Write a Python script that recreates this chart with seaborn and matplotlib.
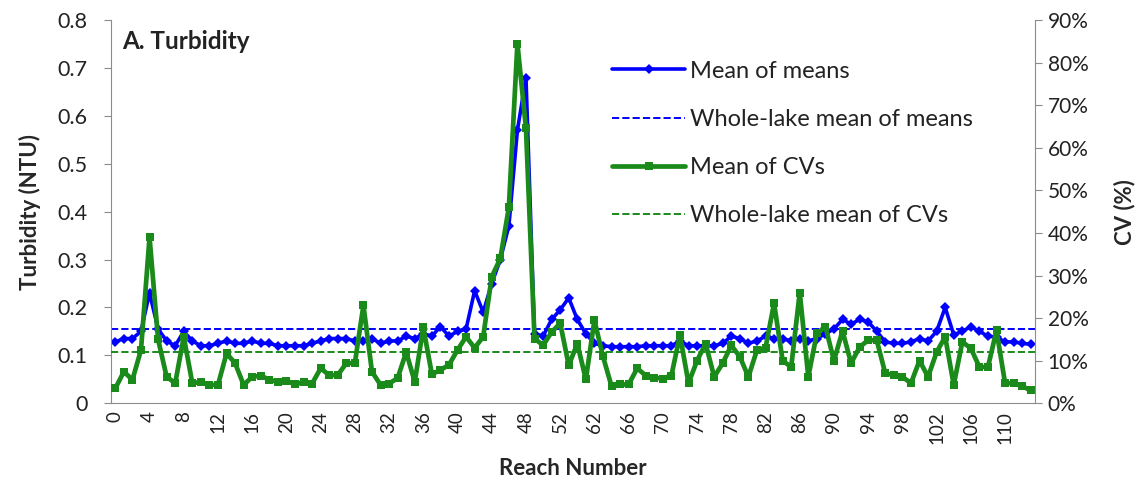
import numpy as np
import pandas as pd
import matplotlib
matplotlib.use("Agg")
import matplotlib.pyplot as plt
import seaborn as sns

# Reach numbers (reaches 53-58 have no samples)
reach = list(range(0, 53)) + list(range(59, 114))

# Mean turbidity of the per-reach means (NTU)
mean_of_means = [
    0.128, 0.135, 0.135, 0.150, 0.230, 0.155, 0.130, 0.120, 0.150, 0.130,
    0.120, 0.120, 0.125, 0.130, 0.125, 0.125, 0.130, 0.125, 0.125, 0.120,
    0.120, 0.120, 0.120, 0.125, 0.130, 0.135, 0.135, 0.135, 0.130, 0.130,
    0.135, 0.125, 0.130, 0.130, 0.140, 0.135, 0.145, 0.140, 0.160, 0.140,
    0.150, 0.155, 0.235, 0.190, 0.250, 0.300, 0.370, 0.570, 0.680, 0.145,
    0.140, 0.175, 0.195, 0.220, 0.175, 0.145, 0.125, 0.120, 0.118, 0.118,
    0.118, 0.118, 0.120, 0.120, 0.120, 0.120, 0.130, 0.120, 0.120, 0.120,
    0.120, 0.125, 0.140, 0.135, 0.125, 0.130, 0.140, 0.135, 0.135, 0.130,
    0.135, 0.130, 0.135, 0.145, 0.155, 0.175, 0.165, 0.175, 0.170, 0.150,
    0.128, 0.125, 0.125, 0.128, 0.135, 0.130, 0.150, 0.200, 0.143, 0.150,
    0.160, 0.150, 0.140, 0.138, 0.128, 0.128, 0.125, 0.123,
]

# Mean coefficient of variation per reach (%)
mean_of_cvs = [
    3.5, 7.4, 5.5, 12.5, 39.0, 15.0, 6.2, 4.7, 15.6, 4.7,
    5.0, 4.3, 4.3, 11.7, 9.4, 4.3, 6.2, 6.5, 5.5, 5.0,
    5.3, 4.4, 5.0, 4.6, 8.2, 6.6, 6.6, 9.4, 9.4, 23.0,
    7.4, 4.3, 4.6, 5.9, 12.0, 5.0, 17.8, 6.8, 7.8, 9.0,
    12.5, 15.6, 13.0, 15.6, 29.7, 34.0, 46.0, 84.5, 64.6, 15.2,
    13.6, 16.7, 18.8, 8.9, 14.0, 5.6, 19.5, 11.0, 4.0, 4.4,
    4.4, 8.2, 6.5, 6.0, 5.8, 6.5, 16.0, 4.7, 10.0, 14.0,
    6.2, 9.4, 13.6, 10.9, 6.2, 12.5, 13.0, 23.5, 10.0, 8.5,
    26.0, 6.2, 16.4, 18.0, 10.0, 17.0, 9.4, 13.2, 14.8, 14.8,
    7.0, 6.6, 6.2, 4.7, 10.0, 6.2, 12.0, 15.6, 4.3, 14.4,
    12.9, 8.5, 8.5, 17.1, 4.7, 4.7, 4.0, 3.0,
]

whole_lake_mean_of_means = 0.154
whole_lake_mean_of_cvs = 12.0

left_ticks = [0, 0.1, 0.2, 0.3, 0.4, 0.5, 0.6, 0.7, 0.8]
right_ticks = [0, 10, 20, 30, 40, 50, 60, 70, 80, 90]

BLUE = "#0000ff"
GREEN = "#1a8a1a"
AXIS_GREY = "#8c8c8c"
TEXT = "#222222"

sns.set_style("white")
plt.rcParams["font.family"] = ["Lato", "DejaVu Sans"]
plt.rcParams["text.color"] = TEXT
plt.rcParams["xtick.color"] = TEXT
plt.rcParams["ytick.color"] = TEXT

df = pd.DataFrame({
    "pos": np.arange(len(reach)),
    "reach": reach,
    "mean": mean_of_means,
    "cv": mean_of_cvs,
})

fig = plt.figure(figsize=(11.4, 4.8), dpi=100)
ax = fig.add_axes([0.0974, 0.16, 0.8105, 0.798])

sns.lineplot(data=df, x="pos", y="mean", ax=ax, color=BLUE, linewidth=2.6,
             marker="D", markersize=5.5, markeredgewidth=0,
             label="Mean of means")
ax.axhline(whole_lake_mean_of_means, color=BLUE, ls="--", lw=1.4,
           label="Whole-lake mean of means")

ax2 = ax.twinx()
sns.lineplot(data=df, x="pos", y="cv", ax=ax2, color=GREEN, linewidth=3.4,
             marker="s", markersize=6, markeredgewidth=0,
             label="Mean of CVs")
ax2.axhline(whole_lake_mean_of_cvs, color=GREEN, ls="--", lw=1.4,
            label="Whole-lake mean of CVs")

# axis ranges
ax.set_xlim(-0.5, len(reach) - 0.5)
ax.set_ylim(0, 0.8)
ax2.set_ylim(0, 90)

# category ticks with a label every fourth reach
ax.set_xticks(df["pos"])
ax.set_xticklabels([str(r) if i % 4 == 0 else "" for i, r in enumerate(reach)],
                   rotation=90, fontsize=13.5)
ax.set_yticks(left_ticks)
ax.set_yticklabels(["0" if t == 0 else f"{t:.1f}" for t in left_ticks], fontsize=15.5)
ax2.set_yticks(right_ticks)
ax2.set_yticklabels([f"{t}%" for t in right_ticks], fontsize=15)

ax.tick_params(axis="x", direction="out", length=4, width=0.8, color=AXIS_GREY, pad=2)
ax.tick_params(axis="y", direction="out", length=5, width=0.8, color=AXIS_GREY,
               left=True, pad=12)
ax2.tick_params(axis="y", direction="out", length=5, width=0.8, color=AXIS_GREY,
                right=True, pad=4)

for a in (ax, ax2):
    a.spines["top"].set_visible(False)
for side in ("left", "bottom"):
    ax.spines[side].set_color(AXIS_GREY)
    ax2.spines[side].set_visible(False)
ax.spines["right"].set_visible(False)
ax2.spines["right"].set_color(AXIS_GREY)

ax.set_xlabel("Reach Number", fontsize=16, fontweight="bold", labelpad=10)
ax.set_ylabel("Turbidity (NTU)", fontsize=16, fontweight="bold", labelpad=12)
ax2.set_ylabel("CV (%)", fontsize=16, fontweight="bold", labelpad=18)

ax.text(0.012, 0.975, "A. Turbidity", transform=ax.transAxes,
        fontsize=17.5, fontweight="bold", va="top", ha="left")

# one legend for both axes
h1, l1 = ax.get_legend_handles_labels()
h2, l2 = ax2.get_legend_handles_labels()
ax.get_legend().remove()
ax2.get_legend().remove()
ax2.legend(h1 + h2, l1 + l2,
           loc="upper left", bbox_to_anchor=(0.532, 0.919), frameon=False,
           fontsize=17, handlelength=3.1, labelspacing=1.15,
           handletextpad=0.2, borderaxespad=0)

fig.savefig("out.png", dpi=100)
